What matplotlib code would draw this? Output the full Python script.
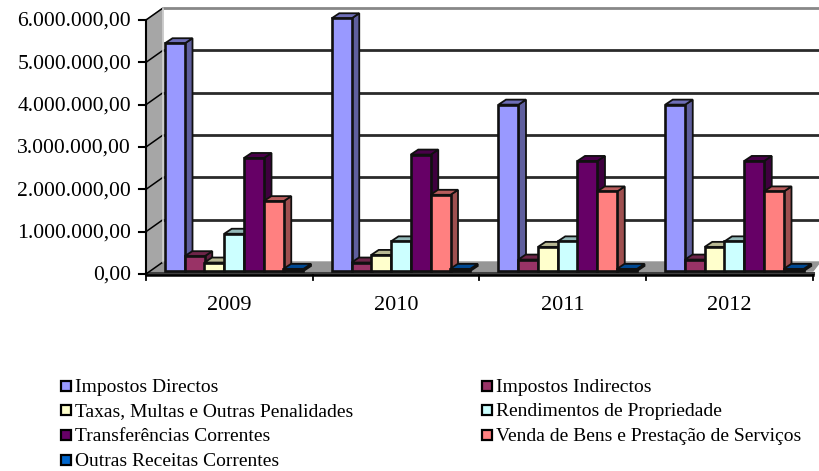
import numpy as np
import matplotlib
matplotlib.use("Agg")
import matplotlib.pyplot as plt
from matplotlib.patches import Rectangle

plt.rcParams['font.family'] = ['Liberation Serif', 'DejaVu Serif']

years = ["2009", "2010", "2011", "2012"]
series = ["Impostos Directos", "Impostos Indirectos",
          "Taxas, Multas e Outras Penalidades", "Rendimentos de Propriedade",
          "Transferências Correntes", "Venda de Bens e Prestação de Serviços",
          "Outras Receitas Correntes"]
impostos_directos = [5380000, 5970000, 3930000, 3930000]
impostos_indirectos = [350000, 200000, 270000, 270000]
taxas = [200000, 380000, 570000, 570000]
rendimentos = [880000, 700000, 700000, 700000]
transferencias = [2670000, 2750000, 2600000, 2600000]
venda = [1650000, 1800000, 1880000, 1880000]
outras = [50000, 50000, 50000, 50000]
values = [impostos_directos, impostos_indirectos, taxas, rendimentos,
          transferencias, venda, outras]
colors = ["#9999FF", "#993366", "#FFFFCC", "#CCFFFF", "#660066", "#FF8080", "#0066CC"]
y_ticks = [0, 1000000, 2000000, 3000000, 4000000, 5000000, 6000000]
y_labels = ["0,00", "1.000.000,00", "2.000.000,00", "3.000.000,00",
            "4.000.000,00", "5.000.000,00", "6.000.000,00"]

W, H = 820, 471
fig = plt.figure(figsize=(W / 100, H / 100), dpi=100)
ax = fig.add_axes([146 / W, (H - 274) / H, (813 - 146) / W, 254 / H])
ax.set_xlim(0, 4)
ax.set_ylim(0, 6000000)
ax.axis("off")

# size of one pixel in data units
ux = 4 / (813 - 146)
uy = 6000000 / 254


def shade(color, f):
    return tuple(c * f for c in matplotlib.colors.to_rgb(color))


def poly(xs, ys, z, **kw):
    ax.fill(np.array(xs) * ux, np.array(ys) * uy, zorder=z, clip_on=False, **kw)


# walls and floor, in pixels from the axis origin
wall_dx, wall_dy = 17, 12
right = 674
poly([0, wall_dx, wall_dx, 0], [0, wall_dy, 254 + wall_dy, 254], 1, color="#a6a6a6")
poly([0, wall_dx, right, 667], [0, wall_dy, wall_dy, 3], 1, color="#969696")
ax.plot([0, 667 * ux], [1.5 * uy, 1.5 * uy], color="#404040", lw=2.2, zorder=2, clip_on=False)

# back gridlines + the slanted bit on the side wall
for t in y_ticks:
    if t > 0:
        ax.plot([wall_dx * ux, right * ux], [t + wall_dy * uy] * 2,
                color="#888888" if t == 6000000 else "#2a2a2a",
                lw=2.0, zorder=2, clip_on=False, solid_capstyle="butt")
    ax.plot([0, wall_dx * ux], [t, t + wall_dy * uy], color="black", lw=1.1, zorder=2, clip_on=False)
    ax.plot([-7 * ux, 0], [t, t], color="black", lw=1.5, zorder=5, clip_on=False)
    ax.text(-15 * ux, t - 1.5 * uy, y_labels[y_ticks.index(t)], ha="right", va="center", fontsize=15.6,
            color="black", clip_on=False)
ax.plot([wall_dx * ux, wall_dx * ux], [wall_dy * uy, (254 + wall_dy) * uy], color="#d0d0d0", lw=1.2, zorder=2, clip_on=False)

# bars
bw = 20 * ux
off = 19 * ux
base = 3 * uy
dx, dy = 7.5 * ux, 5 * uy
edge = "#101010"
for i, yr_vals in enumerate(zip(*values)):
    for j, v in enumerate(yr_vals):
        x0 = i + off + j * bw - j * 0.25 * ux
        z = 10 + i * 10 + j
        top = base + v
        ax.fill([x0 + bw, x0 + bw + dx, x0 + bw + dx, x0 + bw],
                [base, base + dy, top + dy, top], facecolor=shade(colors[j], 0.62),
                edgecolor=edge, lw=1.3, zorder=z, clip_on=False)
        ax.fill([x0, x0 + dx, x0 + bw + dx, x0 + bw],
                [top, top + dy, top + dy, top], facecolor=shade(colors[j], 0.72),
                edgecolor=edge, lw=1.3, zorder=z, clip_on=False)
        ax.bar(x0, v, bw, bottom=base, align="edge", color=colors[j],
               edgecolor=edge, lw=1.9, zorder=z + 0.5, clip_on=False)

# x axis
ax.plot([0, 0], [0, 6000000], color="black", lw=1.5, zorder=5, clip_on=False)
ax.plot([0, 4], [-1 * uy, -1 * uy], color="black", lw=1.8, zorder=5, clip_on=False)
for i in range(5):
    ax.plot([i, i], [-1 * uy, -6 * uy], color="black", lw=1.3, zorder=5, clip_on=False)
for i, yr in enumerate(years):
    ax.text(i + 0.5, -31 * uy, yr, ha="center", va="center", fontsize=16, clip_on=False)

# legend
leg_x = [61, 482]
leg_y = [386, 410, 435, 460]
for k, name in enumerate(series):
    px = leg_x[k % 2]
    py = leg_y[k // 2]
    fig.add_artist(Rectangle((px / W, (H - py - 5) / H), 10 / W, 10 / H, transform=fig.transFigure,
                             facecolor=colors[k], edgecolor="black", lw=1.6))
    fig.text((px + 14) / W, (H - py - 1.5) / H, name, ha="left", va="center", fontsize=14)

fig.savefig("out.png", dpi=100)
